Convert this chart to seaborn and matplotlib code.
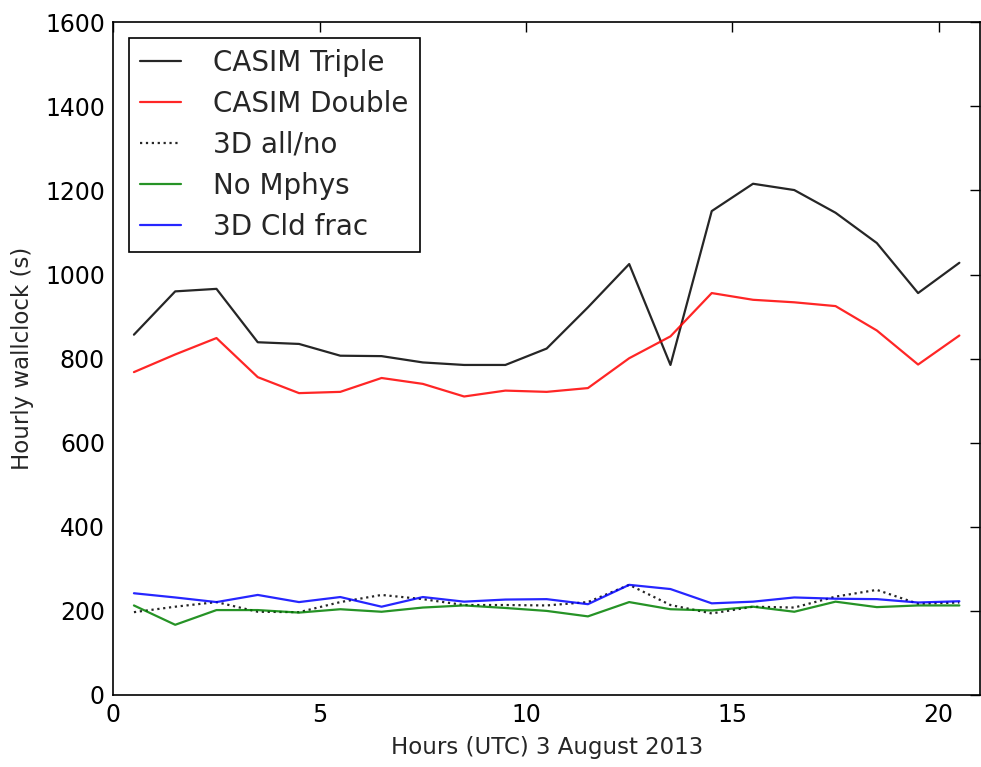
import matplotlib
matplotlib.use("Agg")
import matplotlib.pyplot as plt
import seaborn as sns
import pandas as pd

hours = [0.5, 1.5, 2.5, 3.5, 4.5, 5.5, 6.5, 7.5, 8.5, 9.5, 10.5,
         11.5, 12.5, 13.5, 14.5, 15.5, 16.5, 17.5, 18.5, 19.5, 20.5]

casim_triple = [857, 960, 966, 839, 835, 807, 806, 791, 785, 785, 824,
                922, 1025, 785, 1151, 1216, 1201, 1147, 1075, 956, 1028]
casim_double = [768, 810, 849, 756, 718, 721, 754, 740, 710, 724, 721,
                730, 801, 853, 956, 940, 934, 925, 867, 786, 855]
all_no_3d = [197, 210, 221, 198, 197, 221, 238, 228, 214, 214, 213,
             221, 262, 214, 194, 210, 208, 234, 250, 217, 220]
no_mphys = [213, 167, 202, 202, 196, 204, 198, 208, 213, 207, 200,
            187, 221, 204, 201, 210, 198, 222, 209, 213, 213]
cld_frac_3d = [242, 232, 221, 238, 221, 233, 210, 233, 222, 227, 228,
               216, 262, 252, 218, 222, 232, 229, 228, 220, 223]

series_names = ["CASIM Triple", "CASIM Double", "3D all/no", "No Mphys", "3D Cld frac"]
series_values = [casim_triple, casim_double, all_no_3d, no_mphys, cld_frac_3d]
colors = ["black", "#ff0000", "black", "#008000", "#0000ff"]
styles = ["-", "-", ":", "-", "-"]

sns.set_style("white")
plt.rcParams["font.family"] = ["DejaVu Sans"]

fig = plt.figure(figsize=(9.81, 7.67), dpi=100)
ax = fig.add_axes([113.3 / 981, 1 - 695 / 767, (980 - 113.3) / 981, (695 - 22.3) / 767])

for name, vals, c, ls in zip(series_names, series_values, colors, styles):
    df = pd.DataFrame({"x": hours, "y": vals})
    sns.lineplot(data=df, x="x", y="y", ax=ax, color=c, linestyle=ls,
                 linewidth=1.6, label=name, alpha=0.85)

ax.set_xlim(0, 21)
ax.set_ylim(0, 1600)
ax.set_xticks([0, 5, 10, 15, 20])
ax.set_yticks(range(0, 1601, 200))
ax.set_xlabel("Hours (UTC) 3 August 2013", fontsize=16.5, labelpad=6)
ax.set_ylabel("Hourly wallclock (s)", fontsize=16.5, labelpad=8)
ax.tick_params(direction="in", length=7, width=1, top=True, right=True,
               labelsize=17, pad=6, colors="black")
for sp in ax.spines.values():
    sp.set_color("black")
    sp.set_linewidth(1.2)

leg = ax.legend(loc="upper left", fontsize=20, frameon=True, fancybox=False,
                edgecolor="black", framealpha=1, handlelength=1.5,
                handletextpad=1.15, labelspacing=0.47, borderaxespad=0.55,
                borderpad=0.4)
leg.get_frame().set_linewidth(1.2)

fig.savefig("out.png", dpi=100)
